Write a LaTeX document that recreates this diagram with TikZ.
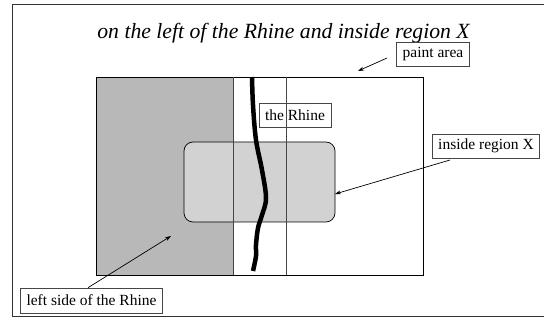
\documentclass[tikz,border=0pt]{standalone}
\usepackage{fontspec}
\setmainfont{Liberation Serif}
\usetikzlibrary{arrows.meta}
\definecolor{darkfill}{RGB}{184,184,184}
\definecolor{lightfill}{RGB}{210,210,210}
\definecolor{framecol}{RGB}{50,50,50}
\definecolor{linecol}{RGB}{70,70,70}
\tikzset{
  label box/.style={draw=linecol, line width=0.6pt, fill=white, inner xsep=6pt, inner ysep=0pt,
    minimum height=24pt, font=\fontsize{15.5}{18}\selectfont},
  pointer/.style={draw=black, line width=0.7pt, -{Stealth[length=6pt,width=4pt]}},
  area/.style={inner sep=0pt, outer sep=0pt}
}
\begin{document}
\begin{tikzpicture}[x=1pt,y=-1pt]
\useasboundingbox (0,0) rectangle (544,320);
% outer frame
\draw[framecol, line width=1pt] (544,5) -- (12,5) -- (12,317) -- (544,317);
% title
\node[anchor=base, inner sep=0pt, font=\itshape\fontsize{21.7}{26}\selectfont] (title) at (283.5,39) {on the left of the Rhine and inside region X};
% paint area
\node[area, draw=black, line width=0.7pt, fill=white, minimum width=327pt, minimum height=198pt] (paint) at (259.5,176) {};
% left side (gray)
\node[area, fill=darkfill, minimum width=137pt, minimum height=198pt] (left) at (164.5,176) {};
% region X
\node[area, draw=black, line width=0.7pt, fill=lightfill, rounded corners=9pt, minimum width=151pt, minimum height=80pt] (region) at (259.5,182) {};
% redraw paint border on top
\node[area, draw=black, line width=0.7pt, minimum width=327pt, minimum height=198pt] at (259.5,176) {};
% vertical lines
\draw[linecol, line width=0.7pt] (left.north east) -- (left.south east);
\coordinate (v1) at (286,77);
\coordinate (v2) at (286,275);
% Rhine
\draw[black, line width=4.5pt, line cap=butt] plot[smooth, tension=0.6] coordinates {(252,77) (253,105) (256,140) (262,170) (266,198) (262,215) (258,228) (256,245) (256,256) (253,271)};
% labels
\node[label box] (rhine) at (295,115) {the Rhine};
\draw[linecol, line width=0.7pt] (v1) -- (v2);
\node[label box] (paintlbl) at (433,54) {paint area};
\node[label box] (regionlbl) at (486,146) {inside region X};
\node[label box, minimum height=25pt] (leftlbl) at (91.5,300.5) {left side of the Rhine};
% arrows
\coordinate (pa tail) at (387,58);
\coordinate (pa tip) at (358,71);
\draw[pointer] (pa tail) -- (pa tip);
\coordinate (rx tail) at (450,160);
\draw[pointer] (rx tail) -- ([yshift=-12pt]region.east);
\coordinate (ls tip) at (171,236);
\draw[pointer] ([xshift=-3.5pt]leftlbl.north) -- (ls tip);
\end{tikzpicture}
\end{document}
